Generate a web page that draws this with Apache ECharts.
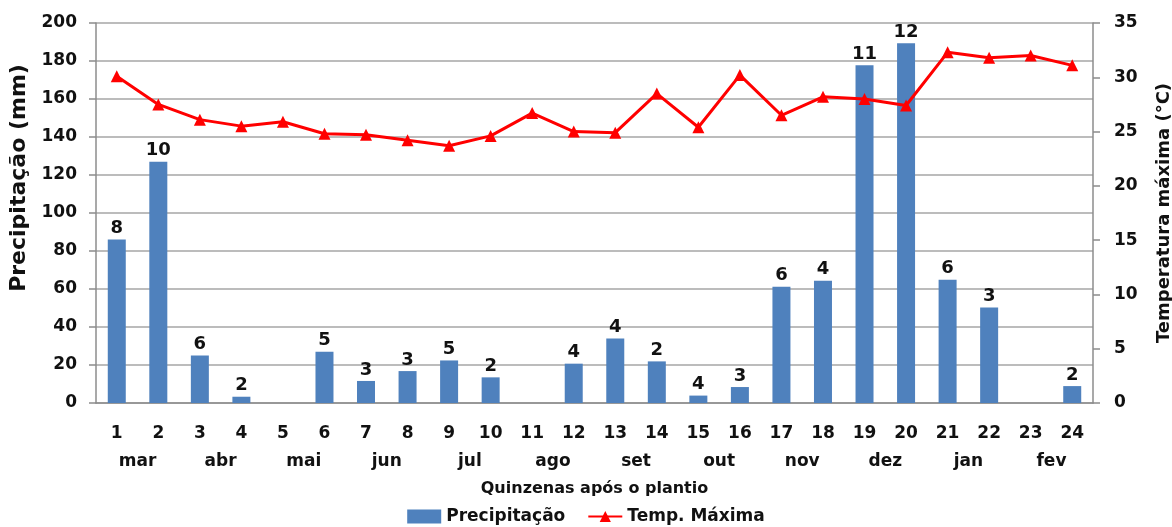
<!DOCTYPE html>
<html>
<head>
<meta charset="utf-8">
<script src="https://cdn.jsdelivr.net/npm/echarts@6/dist/echarts.min.js"></script>
<style>
  html, body { margin: 0; padding: 0; background: #fff; }
  #chart { width: 1172px; height: 527px; }
</style>
</head>
<body>
<div id="chart"></div>
<script>
// quinzenas após o plantio
const quinzenas = ['1','2','3','4','5','6','7','8','9','10','11','12','13','14','15','16','17','18','19','20','21','22','23','24']
const meses = ['mar','abr','mai','jun','jul','ago','set','out','nov','dez','jan','fev']
// precipitação (mm) por quinzena
const precipitacao = [86, 127, 25, 3.3, 0, 27, 11.6, 16.8, 22.4, 13.5, 0, 20.7, 34, 21.9, 3.9, 8.4, 61.2, 64.4, 177.7, 189.3, 64.9, 50.2, 0, 8.9]
// número de dias com chuva (rótulo das barras)
const diasChuva = [8, 10, 6, 2, null, 5, 3, 3, 5, 2, null, 4, 4, 2, 4, 3, 6, 4, 11, 12, 6, 3, null, 2]
// temperatura máxima (°C)
const tempMaxima = [30.1, 27.5, 26.1, 25.5, 25.9, 24.8, 24.7, 24.2, 23.7, 24.6, 26.7, 25.0, 24.9, 28.5, 25.4, 30.2, 26.5, 28.2, 28.0, 27.4, 32.3, 31.8, 32.0, 31.1]

const font = 'DejaVu Sans'
const axisColor = '#8c8c8c'

const chart = echarts.init(document.getElementById('chart'))
chart.setOption({
  animation: false,
  textStyle: { fontFamily: font, color: '#111' },
  grid: { left: 96, right: 79, top: 23, bottom: 124, outerBoundsMode: 'none' },
  legend: {
    top: 503,
    left: 'center',
    itemGap: 22,
    itemWidth: 34,
    itemHeight: 14,
    textStyle: { fontFamily: font, fontWeight: 'bold', fontSize: 17, color: '#111' },
    data: [
      { name: 'Precipitação', icon: 'rect' },
      { name: 'Temp. Máxima' }
    ]
  },
  xAxis: [
    {
      type: 'category',
      data: quinzenas,
      axisLine: { lineStyle: { color: axisColor, width: 1.5 } },
      axisTick: { length: 8, lineStyle: { color: axisColor, width: 1.5 } },
      axisLabel: { margin: 22, fontSize: 17, fontWeight: 'bold', color: '#111' }
    },
    {
      type: 'category',
      position: 'bottom',
      data: meses,
      axisLine: { show: false },
      axisTick: { show: false },
      axisLabel: { margin: 50, fontSize: 17, fontWeight: 'bold', color: '#111' },
      name: 'Quinzenas após o plantio',
      nameLocation: 'middle',
      nameGap: 78,
      nameTextStyle: { fontSize: 16, fontWeight: 'bold', color: '#111' }
    }
  ],
  yAxis: [
    {
      type: 'value',
      min: 0,
      max: 200,
      interval: 20,
      name: 'Precipitação (mm)',
      nameLocation: 'middle',
      nameGap: 66,
      nameTextStyle: { fontSize: 22, fontWeight: 'bold', color: '#111', padding: [0, 0, 0, 70] },
      axisLine: { show: true, lineStyle: { color: axisColor, width: 1.5 } },
      axisTick: { show: true, length: 7, lineStyle: { color: axisColor, width: 1.5 } },
      axisLabel: { margin: 19, fontSize: 17, fontWeight: 'bold', color: '#111' },
      splitLine: { lineStyle: { color: '#a6a6a6', width: 1.5 } }
    },
    {
      type: 'value',
      min: 0,
      max: 35,
      interval: 5,
      position: 'right',
      name: 'Temperatura máxima (°C)',
      nameLocation: 'middle',
      nameGap: 62,
      nameRotate: 90,
      nameTextStyle: { fontSize: 18, fontWeight: 'bold', color: '#111' },
      axisLine: { show: true, lineStyle: { color: axisColor, width: 1.5 } },
      axisTick: { show: true, length: 7, lineStyle: { color: axisColor, width: 1.5 } },
      axisLabel: { margin: 21, fontSize: 17, fontWeight: 'bold', color: '#111' },
      splitLine: { show: false }
    }
  ],
  series: [
    {
      name: 'Precipitação',
      type: 'bar',
      xAxisIndex: 0,
      yAxisIndex: 0,
      data: precipitacao,
      barWidth: 18,
      itemStyle: { color: '#4f81bd' },
      label: {
        show: true,
        position: 'top',
        distance: 2,
        fontSize: 18,
        fontWeight: 'bold',
        color: '#111',
        formatter: p => diasChuva[p.dataIndex] == null ? '' : String(diasChuva[p.dataIndex])
      },
      z: 2
    },
    {
      name: 'Temp. Máxima',
      type: 'line',
      xAxisIndex: 0,
      yAxisIndex: 1,
      data: tempMaxima,
      symbol: 'triangle',
      symbolSize: 12,
      lineStyle: { color: '#ff0000', width: 3 },
      itemStyle: { color: '#ff0000' },
      z: 3
    }
  ]
})
</script>
</body>
</html>
